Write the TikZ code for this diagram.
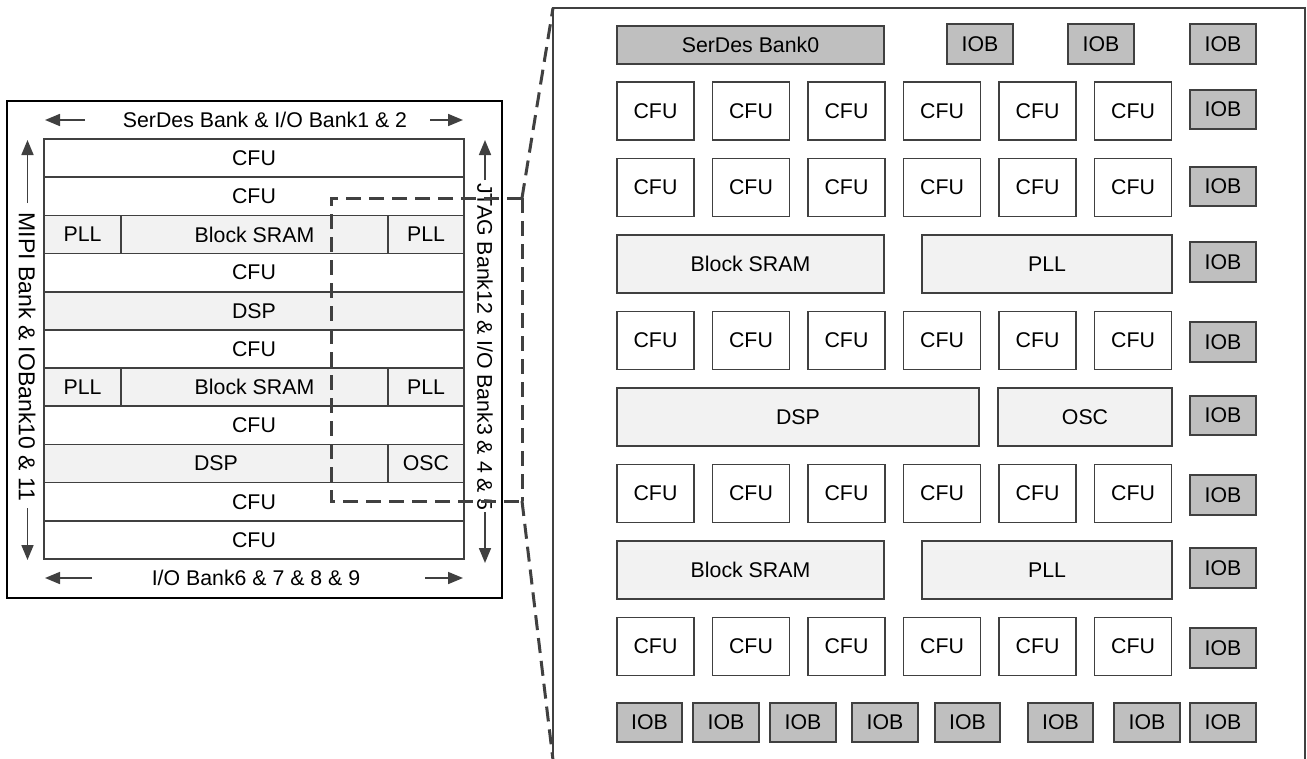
\documentclass[tikz,border=0pt]{standalone}
\usepackage{fontspec}
\setmainfont{Liberation Sans}
\usetikzlibrary{arrows.meta}
\definecolor{edge}{HTML}{404040}
\definecolor{lite}{HTML}{F2F2F2}
\definecolor{mid}{HTML}{BFBFBF}
\newcommand\blk[7]{%
  \pgfmathsetmacro\blkw{#5-#3}%
  \pgfmathsetmacro\blkh{#6-#4}%
  \node[#1, minimum width=\blkw pt, minimum height=\blkh pt] (#2) at ({(#3+#5)/2},{(#4+#6)/2}) {#7};}
\tikzset{
  txt/.style={inner sep=0pt, font=\fontsize{21.3}{25}\selectfont, text=black},
  blkbase/.style={txt, draw=edge, line width=1.7pt},
  wbox/.style={blkbase, fill=white},
  lbox/.style={blkbase, fill=lite},
  gbox/.style={blkbase, fill=mid},
  arr/.style={draw=edge, line width=1.7pt, -{Triangle[length=15pt,width=12pt]}},
  zoomline/.style={draw=edge, line width=3pt, dash pattern=on 15pt off 8pt},
}
\begin{document}
\begin{tikzpicture}[x=1pt,y=-1pt]
\useasboundingbox (0,0) rectangle (1307,758);
\fill[white] (0,0) rectangle (1307,758);

% ---------- left chip ----------
\node[draw=black, line width=2pt, minimum width=495pt, minimum height=497pt, inner sep=0pt] (chip) at (254.5,349.5) {};

\foreach \i in {0,1,3,5,7,9,10}{%
  \pgfmathsetmacro\ya{139+38.18*\i}%
  \pgfmathsetmacro\yb{139+38.18*(\i+1)}%
  \blk{wbox}{lrow\i}{44}{\ya}{464}{\yb}{CFU}}
\foreach \i in {2,6}{%
  \pgfmathsetmacro\ya{139+38.18*\i}%
  \pgfmathsetmacro\yb{139+38.18*(\i+1)}%
  \blk{lbox}{lpllA\i}{44}{\ya}{121}{\yb}{PLL}
  \blk{lbox}{lsram\i}{121}{\ya}{388}{\yb}{Block SRAM}
  \blk{lbox}{lpllB\i}{388}{\ya}{464}{\yb}{PLL}}
\blk{lbox}{ldspA}{44}{291.72}{464}{329.9}{DSP}
\blk{lbox}{ldspB}{44}{444.44}{388}{482.62}{DSP}
\blk{lbox}{losc}{388}{444.44}{464}{482.62}{OSC}

\node[txt] (toptxt) at (265,120) {SerDes Bank \& I/O Bank1 \& 2};
\node[txt] (bottxt) at (256,578) {I/O Bank6 \& 7 \& 8 \& 9};
\node[txt, rotate=-90, font=\fontsize{23}{27}\selectfont] (lefttxt) at (27,357) {MIPI Bank \& IOBank10 \& 11};
\node[txt, rotate=-90] (righttxt) at (485,347) {JTAG Bank12 \& I/O Bank3 \& 4 \& 5};

\coordinate (a1s) at (85,120);  \coordinate (a1e) at (45,120);
\coordinate (a2s) at (430,120); \coordinate (a2e) at (463,120);
\coordinate (a3s) at (92,578);  \coordinate (a3e) at (45,578);
\coordinate (a4s) at (425,578); \coordinate (a4e) at (463,578);
\coordinate (a5s) at (27.5,203); \coordinate (a5e) at (27.5,140);
\coordinate (a6s) at (27.5,508); \coordinate (a6e) at (27.5,560);
\coordinate (a7s) at (485,180); \coordinate (a7e) at (485,140);
\coordinate (a8s) at (485,512); \coordinate (a8e) at (485,563);
\foreach \k in {1,...,8}{\draw[arr] (a\k s) -- (a\k e);}

% ---------- right enlarged view ----------
\coordinate (rbl) at (553,760);
\coordinate (rtl) at (553,8);
\coordinate (rtr) at (1305,8);
\coordinate (rbr) at (1305,760);
\draw[edge, line width=2pt] (rbl) -- (rtl) -- (rtr) -- (rbr);

\blk{gbox}{serdes}{617}{26}{884}{64}{SerDes Bank0}
\blk{gbox}{iobT1}{947}{24}{1013}{64}{IOB}
\blk{gbox}{iobT2}{1068}{24}{1134}{64}{IOB}
\blk{gbox}{iobT3}{1190}{24}{1256}{64}{IOB}

\foreach \r/\yt in {1/82,2/158.5,3/311.5,4/464.5,5/617.5}{%
  \foreach \c/\xl in {1/617,2/712.5,3/808,4/903.5,5/999,6/1094.5}{%
    \pgfmathsetmacro\xr{\xl+77}%
    \pgfmathsetmacro\yb{\yt+58}%
    \blk{wbox}{cfu\r\c}{\xl}{\yt}{\xr}{\yb}{CFU}}}

\foreach \k/\ya/\yb in {1/90/129,2/167/206,3/242/282,4/322/362,5/396/435,6/475/515,7/548/588,8/628/668}{%
  \blk{gbox}{iobR\k}{1190}{\ya}{1256}{\yb}{IOB}}

\blk{lbox}{rsramA}{617}{235}{884}{293}{Block SRAM}
\blk{lbox}{rpllA}{922}{235}{1172}{293}{PLL}
\blk{lbox}{rdsp}{617}{388}{979}{446}{DSP}
\blk{lbox}{rosc}{998}{388}{1172}{446}{OSC}
\blk{lbox}{rsramB}{617}{541}{884}{599}{Block SRAM}
\blk{lbox}{rpllB}{922}{541}{1172}{599}{PLL}

\foreach \k/\xl/\xr in {1/617/682,2/693/759,3/770/836,4/852/918,5/935/1000,6/1028/1093,7/1114/1180,8/1190/1256}{%
  \blk{gbox}{iobB\k}{\xl}{703}{\xr}{742}{IOB}}

% ---------- zoom marker ----------
\coordinate (zTL) at (331,198);
\coordinate (zTR) at (522,198);
\coordinate (zBL) at (331,501);
\coordinate (zBR) at (522,501);
\draw[zoomline] (zTR) -- (zTL) -- (zBL) -- (zBR);
\draw[zoomline] (zTR) -- (zBR);
\draw[zoomline] (zTR) -- (rtl);
\draw[zoomline] (zBR) -- (rbl);
\end{tikzpicture}
\end{document}
